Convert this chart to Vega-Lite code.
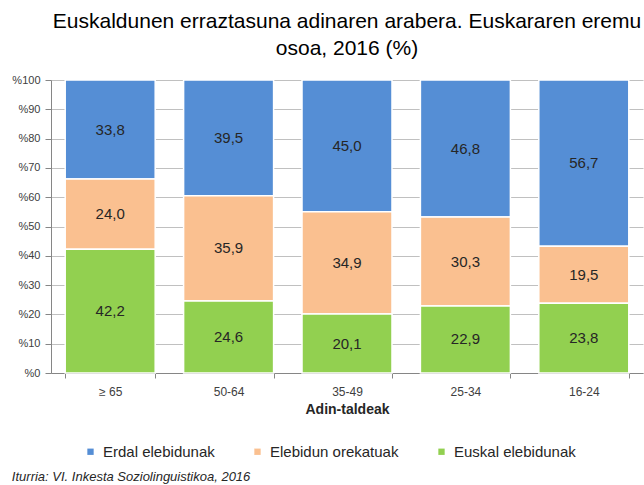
{
  "$schema": "https://vega.github.io/schema/vega-lite/v6.json",
  "padding": {"left": 11, "top": 11, "right": 0, "bottom": 2},
  "background": "white",
  "config": {
    "locale": {"number": {"decimal": ",", "thousands": ".", "grouping": [3], "currency": ["", " €"]}},
    "view": {"stroke": null},
    "font": "Liberation Sans",
    "axisY": {
      "title": null,
      "values": [0, 10, 20, 30, 40, 50, 60, 70, 80, 90, 100],
      "labelExpr": "'%' + datum.value",
      "labelFontSize": 11,
      "labelColor": "#404040",
      "labelPadding": 5,
      "tickSize": 6,
      "domainColor": "#868686",
      "tickColor": "#868686",
      "gridColor": "#c0c0c0"
    }
  },
  "title": {
    "text": "Iturria: VI. Inkesta Soziolinguistikoa, 2016",
    "orient": "bottom",
    "anchor": "start",
    "frame": "bounds",
    "font": "Liberation Sans",
    "fontSize": 13,
    "fontStyle": "italic",
    "fontWeight": "normal",
    "color": "#262626",
    "offset": 11
  },
  "vconcat": [
    {
      "title": {
        "text": ["Euskaldunen  erraztasuna  adinaren arabera. Euskararen eremu", "osoa, 2016 (%)"],
        "font": "Liberation Sans",
        "fontSize": 21,
        "fontWeight": "normal",
        "color": "#000000",
        "anchor": "middle",
        "lineHeight": 27,
        "offset": 15
      },
      "width": 592,
      "height": 293,
      "data": {
        "values": [
          {"adina": "≥ 65", "taldea": "Erdal elebidunak", "pct": 33.8},
          {"adina": "≥ 65", "taldea": "Elebidun orekatuak", "pct": 24.0},
          {"adina": "≥ 65", "taldea": "Euskal elebidunak", "pct": 42.2},
          {"adina": "50-64", "taldea": "Erdal elebidunak", "pct": 39.5},
          {"adina": "50-64", "taldea": "Elebidun orekatuak", "pct": 35.9},
          {"adina": "50-64", "taldea": "Euskal elebidunak", "pct": 24.6},
          {"adina": "35-49", "taldea": "Erdal elebidunak", "pct": 45.0},
          {"adina": "35-49", "taldea": "Elebidun orekatuak", "pct": 34.9},
          {"adina": "35-49", "taldea": "Euskal elebidunak", "pct": 20.1},
          {"adina": "25-34", "taldea": "Erdal elebidunak", "pct": 46.8},
          {"adina": "25-34", "taldea": "Elebidun orekatuak", "pct": 30.3},
          {"adina": "25-34", "taldea": "Euskal elebidunak", "pct": 22.9},
          {"adina": "16-24", "taldea": "Erdal elebidunak", "pct": 56.7},
          {"adina": "16-24", "taldea": "Elebidun orekatuak", "pct": 19.5},
          {"adina": "16-24", "taldea": "Euskal elebidunak", "pct": 23.8}
        ]
      },
      "transform": [
        {"calculate": "indexof(['Euskal elebidunak','Elebidun orekatuak','Erdal elebidunak'], datum.taldea)", "as": "o"},
        {"stack": "pct", "groupby": ["adina"], "sort": [{"field": "o", "order": "ascending"}], "as": ["y0", "y1"]},
        {"calculate": "(datum.y0 + datum.y1) / 2", "as": "ymid"}
      ],
      "encoding": {
        "x": {
          "field": "adina",
          "type": "nominal",
          "sort": ["≥ 65", "50-64", "35-49", "25-34", "16-24"],
          "scale": {"paddingInner": 0.24, "paddingOuter": 0.12},
          "axis": {
            "grid": false,
            "labelAngle": 0,
            "labelFontSize": 12,
            "labelColor": "#404040",
            "labelPadding": 8,
            "domainColor": "#868686",
            "tickColor": "#868686",
            "tickSize": 5,
            "tickBand": "extent",
            "title": "Adin-taldeak",
            "titleFontSize": 14,
            "titleFontWeight": "bold",
            "titleColor": "#262626",
            "titlePadding": 5
          }
        }
      },
      "layer": [
        {
          "mark": {"type": "bar", "stroke": "white", "strokeWidth": 1.5},
          "encoding": {
            "y": {
              "field": "y1",
              "type": "quantitative",
              "scale": {"domain": [0, 100]}
            },
            "y2": {"field": "y0"},
            "color": {
              "field": "taldea",
              "type": "nominal",
              "scale": {
                "domain": ["Erdal elebidunak", "Elebidun orekatuak", "Euskal elebidunak"],
                "range": ["#558ed5", "#fac090", "#92d050"]
              },
              "legend": {
                "orient": "none",
                "legendX": 32,
                "legendY": 364,
                "direction": "horizontal",
                "title": null,
                "symbolType": "square",
                "symbolSize": 40,
                "symbolStrokeWidth": 0,
                "labelFontSize": 15,
                "labelColor": "#262626",
                "labelOffset": 5,
                "columnPadding": 35,
                "padding": 0
              }
            }
          }
        },
        {
          "mark": {"type": "text", "fontSize": 15, "color": "#262626"},
          "encoding": {
            "y": {"field": "ymid", "type": "quantitative"},
            "text": {"field": "pct", "type": "quantitative", "format": ".1f"}
          }
        }
      ]
    }
  ]
}
